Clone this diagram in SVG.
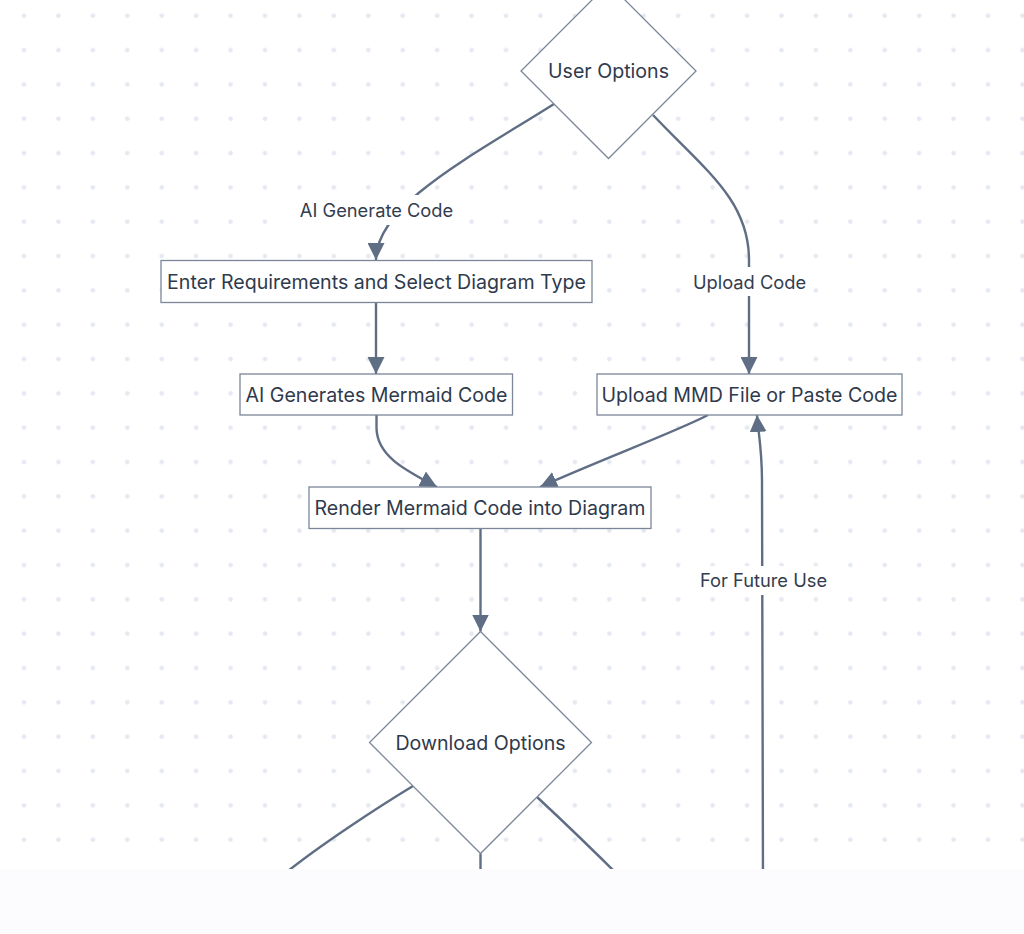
<svg xmlns="http://www.w3.org/2000/svg" width="1024" height="934" viewBox="0 0 1024 934">
<style>
.node{fill:#ffffff;stroke:#7b8699;stroke-width:1.3}
.ntext{font-family:Inter,"Noto Sans",sans-serif;font-size:19.6px;fill:#2f3a4c;text-anchor:middle;dominant-baseline:central}
.ltext{font-family:Inter,"Noto Sans",sans-serif;font-size:18.3px;fill:#333d4f;text-anchor:middle;dominant-baseline:central}
.edge{fill:none;stroke:#5f6e85;stroke-width:2.4}
.lbg{fill:#ffffff}
</style>
<defs>
<pattern id="dots" x="6.8" y="-1.5" width="34.43" height="34.33" patternUnits="userSpaceOnUse">
<circle cx="17.2" cy="17.2" r="2.3" fill="#e4e8f1"/>
</pattern>
<marker id="arrow" viewBox="0 0 16 16" refX="16" refY="8" markerWidth="17" markerHeight="17" markerUnits="userSpaceOnUse" orient="auto">
<path d="M0,0 L16,8 L0,16 z" fill="#5f6e85"/>
</marker>
</defs>
<rect x="0" y="0" width="1024" height="934" fill="#ffffff"/>
<rect x="0" y="0" width="1024" height="934" fill="url(#dots)"/>

<g id="connectors">
<path class="edge" d="M554,104 C470,157 376,205 376,260" marker-end="url(#arrow)"/>
<path class="edge" d="M376,302.5 L376,374" marker-end="url(#arrow)"/>
<path class="edge" d="M376.5,415 L376.5,428 C377,456 405,470 437,487" marker-end="url(#arrow)"/>
<path class="edge" d="M708,415 C680,430 600,460 540,487" marker-end="url(#arrow)"/>
<path class="edge" d="M653,115 C705,170 749,200 749,260 L749,374" marker-end="url(#arrow)"/>
<path class="edge" d="M480.5,528.5 L480.5,631.5" marker-end="url(#arrow)"/>
<path class="edge" d="M763,885 L762,480 C762,450 758,430 757,415" marker-end="url(#arrow)"/>
<path class="edge" d="M413,786 C380,806 320,845 283,875"/>
<path class="edge" d="M537,797 C565,823 600,857 625,882"/>
<path class="edge" d="M480.5,853.5 L480.5,885"/>
<g id="edge-labels">
<rect class="lbg" x="296" y="195" width="161" height="30"/>
<text class="ltext" x="376.5" y="210">AI Generate Code</text>
<rect class="lbg" x="690" y="267" width="119" height="29"/>
<text class="ltext" x="749.5" y="282">Upload Code</text>
<rect class="lbg" x="696" y="566" width="135" height="29"/>
<text class="ltext" x="763.5" y="580">For Future Use</text>
</g>
</g>

<g id="user-options">
<polygon class="node" points="608.5,-16.5 696,71 608.5,158.5 521,71"/>
<text class="ntext" x="608.5" y="71">User Options</text>
</g>
<g id="enter-requirements">
<rect class="node" x="161" y="260.5" width="431" height="42"/>
<text class="ntext" x="376.5" y="281.5">Enter Requirements and Select Diagram Type</text>
</g>
<g id="ai-generates">
<rect class="node" x="240" y="374" width="272.5" height="41"/>
<text class="ntext" x="376.5" y="394.5">AI Generates Mermaid Code</text>
</g>
<g id="upload-mmd">
<rect class="node" x="597" y="374" width="305" height="41"/>
<text class="ntext" x="749.5" y="394.5">Upload MMD File or Paste Code</text>
</g>
<g id="render">
<rect class="node" x="309" y="487" width="342" height="41.5"/>
<text class="ntext" x="480" y="507.5">Render Mermaid Code into Diagram</text>
</g>
<g id="download-options">
<polygon class="node" points="480.5,631.5 591.5,742.5 480.5,853.5 369.5,742.5"/>
<text class="ntext" x="480.5" y="742.5">Download Options</text>
</g>

<rect x="0" y="869" width="1024" height="65" fill="#fcfbfe"/>
</svg>
